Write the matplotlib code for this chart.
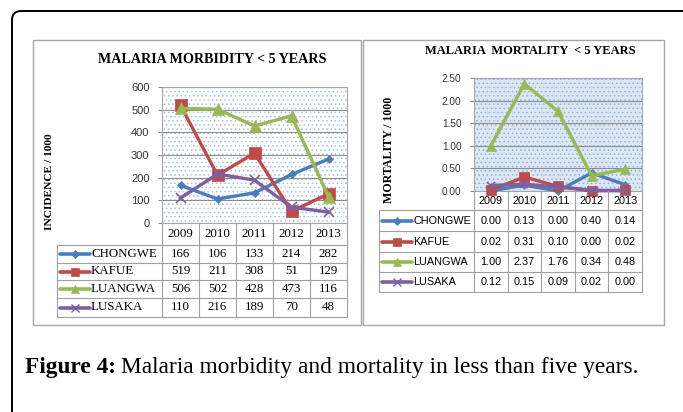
import matplotlib
matplotlib.use("Agg")
import matplotlib.pyplot as plt
from matplotlib.patches import Rectangle, FancyBboxPatch

plt.rcParams["hatch.linewidth"] = 0.6

YEARS = ["2009", "2010", "2011", "2012", "2013"]
DISTRICTS = ["CHONGWE", "KAFUE", "LUANGWA", "LUSAKA"]

MORB_CHONGWE = [166, 106, 133, 214, 282]
MORB_KAFUE = [519, 211, 308, 51, 129]
MORB_LUANGWA = [506, 502, 428, 473, 116]
MORB_LUSAKA = [110, 216, 189, 70, 48]

MORT_CHONGWE = [0.00, 0.13, 0.00, 0.40, 0.14]
MORT_KAFUE = [0.02, 0.31, 0.10, 0.00, 0.02]
MORT_LUANGWA = [1.00, 2.37, 1.76, 0.34, 0.48]
MORT_LUSAKA = [0.12, 0.15, 0.09, 0.02, 0.00]

MORB_TICKS = [0, 100, 200, 300, 400, 500, 600]
MORT_TICKS = [0.0, 0.5, 1.0, 1.5, 2.0, 2.5]

COLORS = ["#4A7EBB", "#BE4B48", "#98B954", "#7D60A0"]
MARKERS = ["D", "s", "^", "x"]
MSIZES = [4.5, 8, 8, 7]

W, H = 683, 412
fig = plt.figure(figsize=(W / 100, H / 100), dpi=100)
fig.patch.set_facecolor("white")

# overlay axes in pixel coordinates
ov = fig.add_axes([0, 0, 1, 1])
ov.set_xlim(0, W)
ov.set_ylim(H, 0)
ov.axis("off")
ov.set_zorder(5)
ov.patch.set_alpha(0)


def px_axes(x0, y0, x1, y1):
    return fig.add_axes([x0 / W, 1 - y1 / H, (x1 - x0) / W, (y1 - y0) / H])


def panel(box, plot, series, ticks, ylim, fmt, title, tpos, title_fs, ylabel, ylpos,
          ylabel_fs, rows, label_x, table_font, table_fs, tick_fs, face, dots, mscale):
    bx0, by0, bx1, by1 = box
    ov.add_patch(Rectangle((bx0, by0), bx1 - bx0, by1 - by0, fill=False,
                           edgecolor="#A6A6A6", lw=1.0))
    x0, y0, x1, y1 = plot
    ax = px_axes(x0, y0, x1, y1)
    ax.add_patch(Rectangle((0, 0), 1, 1, transform=ax.transAxes, facecolor=face,
                           edgecolor=dots, hatch="....", lw=0, zorder=0))
    ax.set_facecolor("white")
    for t in ticks:
        ax.axhline(t, color="#8C8C8C", lw=0.8, zorder=1)
    for i, vals in enumerate(series):
        ax.plot(range(len(YEARS)), vals, color=COLORS[i], lw=2.4,
                marker=MARKERS[i], ms=MSIZES[i] * mscale,
                mew=1.2 if MARKERS[i] == "x" else 0.5,
                mec=COLORS[i], zorder=3 + i, clip_on=False)
    ax.set_xlim(-0.5, len(YEARS) - 0.5)
    ax.set_ylim(*ylim)
    ax.set_yticks(ticks)
    ax.set_yticklabels([fmt.format(t) for t in ticks], fontsize=tick_fs,
                       family="Liberation Sans", color="#333333")
    ax.set_xticks([])
    ax.tick_params(axis="y", length=3, color="#8C8C8C", pad=6)
    for s in ax.spines.values():
        s.set_color("#A6A6A6")
        s.set_linewidth(0.8)

    ov.text(tpos[0], tpos[1], title, ha="center", va="center", family="Liberation Serif",
            weight="bold", fontsize=title_fs)
    ov.text(ylpos[0], ylpos[1], ylabel, ha="center", va="center", rotation=90,
            family="Liberation Serif", weight="bold", fontsize=ylabel_fs)

    # data table
    n = len(YEARS)
    cw = (x1 - x0) / n
    cols = [x0 + k * cw for k in range(n + 1)]
    grid = "#A0A0A0"
    ov.plot([x0, x1], [rows[1], rows[1]], color=grid, lw=0.8)
    for c in cols:
        ov.plot([c, c], [rows[0], rows[-1]], color=grid, lw=0.8)
    for k, yr in enumerate(YEARS):
        ov.text(cols[k] + cw / 2, (rows[0] + rows[1]) / 2, yr, ha="center", va="center",
                family=table_font, fontsize=table_fs)
    for r in range(1, len(rows)):
        ov.plot([label_x, x1], [rows[r], rows[r]], color=grid, lw=0.8)
    ov.plot([label_x, label_x], [rows[1], rows[-1]], color=grid, lw=0.8)
    for i, vals in enumerate(series):
        yc = (rows[i + 1] + rows[i + 2]) / 2
        lx0, lx1 = label_x + 3, label_x + 33
        ov.plot([lx0, lx1], [yc, yc], color=COLORS[i], lw=2.6, solid_capstyle="round")
        ov.plot([(lx0 + lx1) / 2], [yc], marker=MARKERS[i], color=COLORS[i],
                ms=MSIZES[i] * 0.8, mew=1.0 if MARKERS[i] == "x" else 0.5)
        ov.text(lx1 + 1, yc, DISTRICTS[i], ha="left", va="center", family=table_font,
                fontsize=table_fs)
        for k, v in enumerate(vals):
            ov.text(cols[k] + cw / 2, yc, fmt.format(v), ha="center", va="center",
                    family=table_font, fontsize=table_fs)


panel(box=(33, 40, 361, 325), plot=(162, 87, 347, 223),
      series=[MORB_CHONGWE, MORB_KAFUE, MORB_LUANGWA, MORB_LUSAKA],
      ticks=MORB_TICKS, ylim=(0, 600), fmt="{:.0f}",
      title="MALARIA MORBIDITY < 5 YEARS", tpos=(212, 59), title_fs=10.2,
      ylabel="INCIDENCE / 1000", ylpos=(50, 182), ylabel_fs=8.2,
      rows=[223, 245, 263, 280, 298, 317], label_x=57,
      table_font="Liberation Serif", table_fs=9.3, tick_fs=8,
      face="white", dots="#A9C0E0", mscale=1.0)

panel(box=(363, 40, 664, 325), plot=(474, 78, 642, 191),
      series=[MORT_CHONGWE, MORT_KAFUE, MORT_LUANGWA, MORT_LUSAKA],
      ticks=MORT_TICKS, ylim=(0, 2.5), fmt="{:.2f}",
      title="MALARIA  MORTALITY  < 5 YEARS", tpos=(530, 51), title_fs=9.0,
      ylabel="MORTALITY / 1000", ylpos=(389, 150), ylabel_fs=8.6,
      rows=[191, 210, 231, 252, 272, 292], label_x=379,
      table_font="Liberation Sans", table_fs=7.8, tick_fs=7.2,
      face="#DCE6F4", dots="#93B1DD", mscale=0.85)

# outer rounded frame
ov.add_patch(FancyBboxPatch((12, 11), 700, 450, boxstyle="round,pad=0,rounding_size=9",
                            fill=False, edgecolor="black", lw=1.4, clip_on=True))

# caption
lead = ov.text(25, 368, "Figure 4:", ha="left", va="center", family="Liberation Serif",
               weight="bold", fontsize=16.8)
fig.canvas.draw()
bb = lead.get_window_extent()
ov.text(bb.x1 + 5, 368, "Malaria morbidity and mortality in less than five years.",
        ha="left", va="center", family="Liberation Serif", fontsize=16.8)

fig.savefig("out.png", dpi=100)
